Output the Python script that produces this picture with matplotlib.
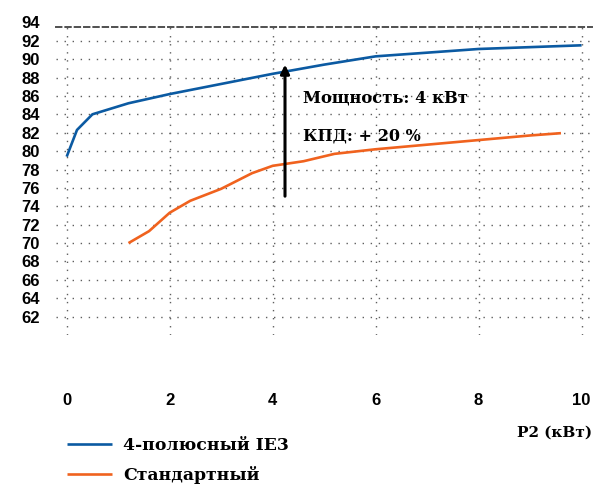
import matplotlib
matplotlib.use("Agg")
import matplotlib.pyplot as plt

# КПД двигателей, % в зависимости от P2, кВт
ie3_p2 = [0, 0.2, 0.5, 1.2, 2, 3, 4, 5, 6, 7, 8, 9, 10]
ie3_eff = [79.4, 82.3, 84.0, 85.2, 86.2, 87.3, 88.4, 89.4, 90.3, 90.7, 91.1, 91.3, 91.5]

std_p2 = [1.2, 1.6, 2.0, 2.4, 3.0, 3.6, 4.0, 4.6, 5.2, 6.0, 7.0, 8.0, 9.0, 9.6]
std_eff = [70.0, 71.3, 73.3, 74.6, 75.9, 77.6, 78.4, 78.9, 79.7, 80.2, 80.7, 81.2, 81.7, 81.95]

x_ticks = [0, 2, 4, 6, 8, 10]
y_ticks = list(range(62, 96, 2))

arrow_x = 4.24
arrow_from = 75.1
arrow_to = 89.4

BLUE = "#0b5aa2"
ORANGE = "#f0621e"
SERIF = "DejaVu Serif"

plt.rcParams["font.family"] = ["Liberation Sans", "DejaVu Sans"]
plt.rcParams["font.weight"] = "bold"

fig = plt.figure(figsize=(5.93, 4.86), dpi=100)
ax = fig.add_axes([0.0951, 0.3105, 0.903, 0.6436])

ax.plot(ie3_p2, ie3_eff, color=BLUE, lw=1.9, label="4-полюсный IE3", solid_capstyle="butt")
ax.plot(std_p2, std_eff, color=ORANGE, lw=1.9, label="Стандартный", solid_capstyle="butt")

ax.annotate("", xy=(arrow_x, arrow_to), xytext=(arrow_x, arrow_from),
            arrowprops=dict(arrowstyle="-|>", color="black", lw=2.2,
                            mutation_scale=13, shrinkA=0, shrinkB=0))
ax.text(4.59, 85.74, "Мощность: 4 кВт", fontsize=11.8, fontweight="bold",
        family=SERIF, va="center", ha="left")
ax.text(4.59, 81.64, "КПД: + 20 %", fontsize=11.5, fontweight="bold",
        family=SERIF, va="center", ha="left")

ax.set_xlim(-0.2, 10.2)
ax.set_ylim(60, 94)
ax.set_xticks(x_ticks)
ax.set_yticks(y_ticks)
ax.tick_params(length=0, labelsize=12)
ax.tick_params(axis="x", pad=42)
ax.tick_params(axis="y", pad=12)

ax.grid(True, color="#5f5f5f", lw=1.0, linestyle=(0, (1, 4.8)))
ax.yaxis.get_major_ticks()[-1].gridline.set_visible(False)
for s in ["left", "right", "bottom"]:
    ax.spines[s].set_visible(False)
ax.spines["top"].set_position(("data", 93.5))
ax.spines["top"].set_color("#505050")
ax.spines["top"].set_linestyle((0, (2.8, 2.0)))
ax.spines["top"].set_linewidth(1.4)

fig.text(0.998, 0.109, "P2 (кВт)", fontsize=11, fontweight="bold",
         family=SERIF, ha="right", va="center")

fig.legend(loc="upper left", bbox_to_anchor=(0.113, 0.101), frameon=False,
           handlelength=2.6, handletextpad=0.65, labelspacing=0.70,
           borderpad=0, borderaxespad=0,
           prop=dict(family=SERIF, weight="bold", size=12.4))

fig.savefig("out.png", dpi=100)
